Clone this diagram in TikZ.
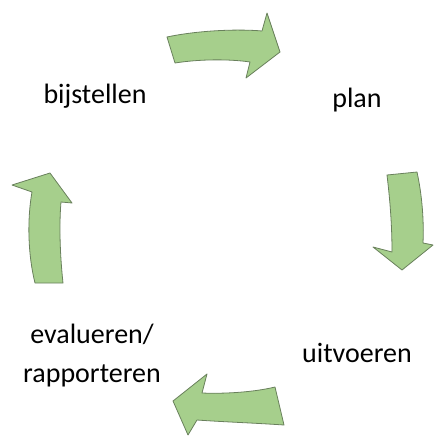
\documentclass[tikz,border=0pt]{standalone}
\usepackage{fontspec}
\setmainfont{Carlito}
\usepackage{xcolor}
\definecolor{arrowfill}{RGB}{166,207,140}
\definecolor{arrowedge}{RGB}{105,128,92}

\begin{document}
\begin{tikzpicture}[x=1pt, y=-1pt]
\tikzset{
    mylabel/.style={inner sep=0pt, anchor=base, align=center, font=\fontsize{28}{39}\selectfont},
    myarrow/.style={draw=arrowedge, line width=0.8pt, line join=round, fill=arrowfill}
}
\useasboundingbox (0,0) rectangle (434,436);

\node[mylabel] (bijstellen) at (95,103) {bijstellen};
\node[mylabel] (plan) at (357,107) {plan};
\node[mylabel] (uitvoeren) at (357,362) {uitvoeren};
% base of a two-line node is its last line
\node[mylabel] (evalueren) at (92,382) {evalueren/\\rapporteren};

% top: bijstellen -> plan
\path[myarrow] (167,37) .. controls (200,30) and (240,29) .. (262,31) -- (267,13) -- (280,52)
    -- (246,78) -- (250,62) .. controls (230,59) and (200,59) .. (175,63) -- cycle;
% right: plan -> uitvoeren
\path[myarrow] (387,175) -- (417,172) .. controls (422,195) and (424,220) .. (423,243) -- (433,245)
    -- (402,270) -- (373,247) -- (392,252) .. controls (392,225) and (390,200) .. (387,175) -- cycle;
% bottom: uitvoeren -> evalueren
\path[myarrow] (275,387) .. controls (255,392) and (225,394) .. (202,393) -- (207,374) -- (173,401)
    -- (188,435) -- (197,420) .. controls (225,422) and (255,423) .. (284,425) -- cycle;
% left: evalueren -> bijstellen
\path[myarrow] (35,283) -- (63,283) .. controls (60,255) and (59,225) .. (61,202) -- (72,203)
    -- (50,173) -- (12,185) -- (32,192) .. controls (27,220) and (28,255) .. (35,283) -- cycle;

\end{tikzpicture}
\end{document}
